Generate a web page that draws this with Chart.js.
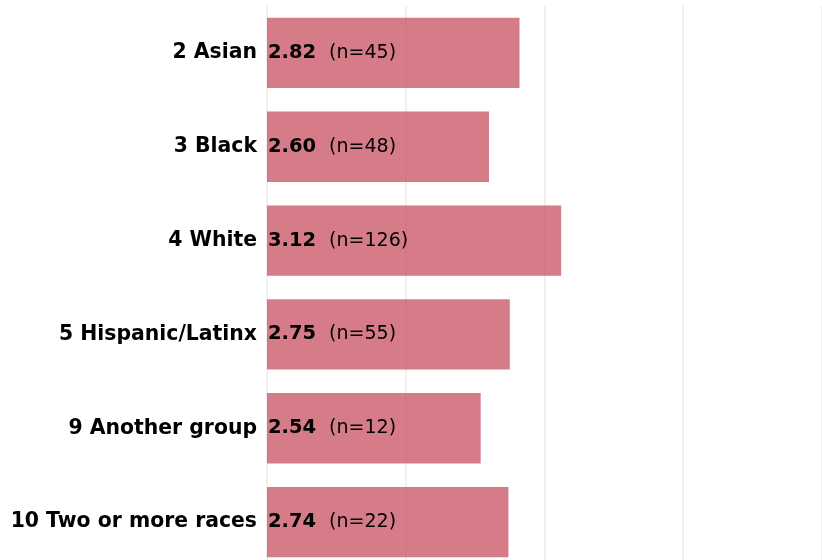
<!DOCTYPE html>
<html>
<head>
<meta charset="utf-8">
<script src="https://cdn.jsdelivr.net/npm/chart.js@4"></script>
<style>
  html, body { margin: 0; padding: 0; background: #fff; }
  .wrap { width: 822px; height: 560px; overflow: hidden; }
</style>
</head>
<body>
<div class="wrap">
  <canvas id="meansChart" width="822" height="569"></canvas>
</div>
<script>
// group labels, mean score and group size
const categories = ['2 Asian', '3 Black', '4 White', '5 Hispanic/Latinx', '9 Another group', '10 Two or more races'];
const means = [2.82, 2.60, 3.12, 2.75, 2.54, 2.74];
const counts = [45, 48, 126, 55, 12, 22];

const fontFamily = '"DejaVu Sans", Verdana, sans-serif';

// writes "mean  (n=..)" at the start of every bar
const barLabels = {
  id: 'barLabels',
  afterDatasetsDraw(chart) {
    const ctx = chart.ctx;
    const meta = chart.getDatasetMeta(0);
    const x = chart.scales.x.getPixelForValue(1) + 1;
    ctx.save();
    ctx.fillStyle = '#000';
    ctx.textBaseline = 'middle';
    ctx.textAlign = 'left';
    meta.data.forEach((bar, i) => {
      const valueText = means[i].toFixed(2);
      ctx.font = 'bold 19.5px ' + fontFamily;
      ctx.fillText(valueText, x, bar.y);
      const w = ctx.measureText(valueText).width;
      ctx.font = '19px ' + fontFamily;
      ctx.fillText('(n=' + counts[i] + ')', x + w + 13, bar.y);
    });
    ctx.restore();
  }
};

new Chart(document.getElementById('meansChart'), {
  type: 'bar',
  data: {
    labels: categories,
    datasets: [{
      data: means,
      backgroundColor: 'rgba(196, 69, 86, 0.7)',
      borderWidth: 0,
      categoryPercentage: 1,
      barPercentage: 0.75,
    }],
  },
  options: {
    indexAxis: 'y',
    responsive: false,
    animation: false,
    layout: { padding: { top: 6, right: 0, bottom: 0, left: 0 } },
    plugins: {
      legend: { display: false },
      tooltip: { enabled: false },
    },
    scales: {
      x: {
        min: 1,
        max: 5,
        ticks: { display: false, stepSize: 1 },
        border: { display: false },
        grid: { color: 'rgba(0, 0, 0, 0.06)', lineWidth: 2, drawTicks: false },
      },
      y: {
        border: { display: false },
        grid: { display: false, drawTicks: false },
        ticks: {
          color: '#000',
          padding: 10,
          font: { family: fontFamily, size: 20.4, weight: 'bold' },
        },
        afterFit(scale) {
          // no extra room above/below for the label text
          scale.paddingTop = 0;
          scale.paddingBottom = 0;
          scale.width = 267;
        },
      },
    },
  },
  plugins: [barLabels],
});
</script>
</body>
</html>
